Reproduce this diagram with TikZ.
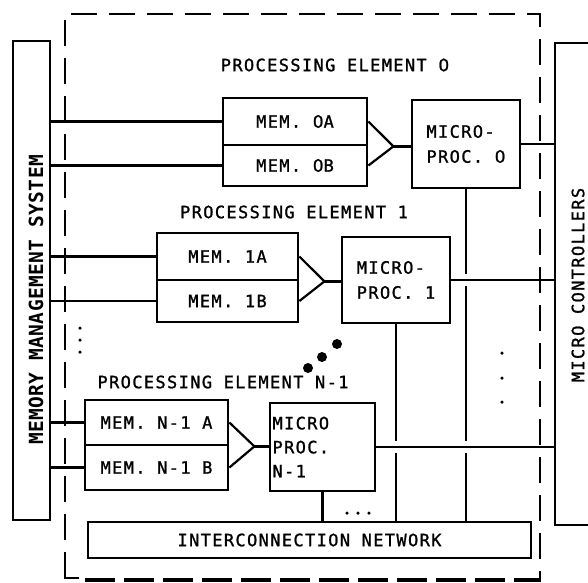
\documentclass[tikz,border=0pt]{standalone}
\usepackage{fontspec}
\usetikzlibrary{calc}
\newfontfamily\plotfont[LetterSpace=8, FakeBold=1.2]{DejaVu Sans Mono}
\newfontfamily\plotbold[LetterSpace=2]{DejaVu Sans Mono Bold}
% an open zero without the inner dot of the mono face
\newfontfamily\zerofont[FakeBold=1.2]{DejaVu Sans}
\newcommand{\Zero}{{\zerofont 0}}
\begin{document}
\begin{tikzpicture}[x=1pt,y=-1pt,
  every node/.style={inner sep=0pt, font=\plotfont\fontsize{17}{25}\selectfont},
  box/.style={draw, line width=2.8pt, rectangle},
  wire/.style={line width=2.2pt},
  border/.style={line width=2.4pt, dash pattern=on 26pt off 12pt},
  bigdot/.style={fill, circle, minimum size=10pt},
  smalldot/.style={fill, circle, minimum size=3.5pt}
]
\useasboundingbox (0,0) rectangle (588,582);
\clip (0,0) rectangle (588,582);

% side systems
\node[box, minimum width=37pt, minimum height=479pt] (mms) at (31.5,280.5) {};
\node[rotate=90, font=\plotbold\fontsize{19.5}{20}\selectfont] (mmstext) at (36,300) {MEMORY MANAGEMENT SYSTEM};
\node[box, minimum width=80pt, minimum height=482pt] (mc) at (595,284) {};
\node[rotate=90] (mctext) at (578,285) {MICRO CONTROLLERS};

% processing element 0
\node (pe0) at (335,65) {PROCESSING ELEMENT \Zero};
\node[box, minimum width=144pt, minimum height=47pt] (memA0) at (295,121.5) {MEM. \Zero A};
\node[box, minimum width=144pt, minimum height=41pt] (memB0) at (295,165.5) {MEM. \Zero B};
\node[box, minimum width=108pt, minimum height=88pt, align=left] (m0) at (466,144) {MICRO-\\PROC. \Zero};

% processing element 1
\node (pe1) at (294,212) {PROCESSING ELEMENT 1};
\node[box, minimum width=141pt, minimum height=47pt] (memA1) at (227.5,256.5) {MEM. 1A};
\node[box, minimum width=141pt, minimum height=42pt] (memB1) at (227.5,301) {MEM. 1B};
\node[box, minimum width=108pt, minimum height=86pt, align=left] (m1) at (396,280) {MICRO-\\PROC. 1};

% processing element N-1
\node (pen) at (223,382) {PROCESSING ELEMENT N-1};
\node[box, minimum width=143pt, minimum height=45pt] (memAn) at (156.5,422.5) {MEM. N-1 A};
\node[box, minimum width=143pt, minimum height=45pt] (memBn) at (156.5,467.5) {MEM. N-1 B};
\node[box, minimum width=105pt, minimum height=88pt, text width=100pt, inner xsep=2.5pt, align=left,
      font=\plotfont\fontsize{17}{24}\selectfont] (mn) at (322.5,447) {MICRO\\PROC.\\N-1};

% interconnection network
\node[box, minimum width=443pt, minimum height=36pt] (ic) at (309.5,540) {INTERCONNECTION NETWORK};

% memory buses
\foreach \m in {memA0,memB0,memA1,memB1,memAn,memBn}
  \draw[wire] (mms.east |- \m.west) -- (\m.west);

% selectors between memory banks and processors
\foreach \a/\b/\p in {memA0/memB0/m0, memA1/memB1/m1, memAn/memBn/mn}{
  \coordinate (apex) at ($(\a.south east)+(25,0)$);
  \draw[wire, line join=miter] (\a.east) -- (apex) -- (\b.east);
  \draw[wire] (apex) -- (apex -| \p.west);
}

% processor links to the interconnection network (broken where they cross)
\draw[wire] (m0.south) -- ($(m0.south |- m1.east)+(0,-6)$);
\draw[wire] ($(m0.south |- m1.east)+(0,6)$) -- ($(m0.south |- mn.east)+(0,-6)$);
\draw[wire] ($(m0.south |- mn.east)+(0,6)$) -- (m0.south |- ic.north);
\draw[wire] (m1.south) -- ($(m1.south |- mn.east)+(0,-6)$);
\draw[wire] ($(m1.south |- mn.east)+(0,6)$) -- (m1.south |- ic.north);
\draw[wire] (mn.south) -- (mn.south |- ic.north);

% processor links to the micro controllers
\foreach \p in {m0,m1,mn}
  \draw[wire] (\p.east) -- (\p.east -| mc.west);

% ellipses
\node[smalldot] (d1) at (80,328) {};
\node[smalldot] (d2) at (80,340) {};
\node[smalldot] (d3) at (80,352) {};
\node[bigdot] (b1) at (308,368) {};
\node[bigdot] (b2) at (322,357) {};
\node[bigdot] (b3) at (337,344) {};
\node[smalldot] (r1) at (502,353) {};
\node[smalldot] (r2) at (502,378) {};
\node[smalldot] (r3) at (502,402) {};
\node[smalldot] (e1) at (347,513) {};
\node[smalldot] (e2) at (358,513) {};
\node[smalldot] (e3) at (369,513) {};

% processing array boundary
\coordinate (tl) at (65,14);
\coordinate (tr) at (540,14);
\coordinate (bl) at (65,578);
\coordinate (br) at (540,582);
\draw[border] (bl) -- (tl) -- (tr) -- (br);
\draw[line width=4.5pt, dash pattern=on 30pt off 9pt] ($(bl)+(20,2)$) -- ($(br)+(0,-2)$);
\draw[line width=2.4pt] ($(bl)+(0,-12)$) -- (bl) -- ($(bl)+(14,0)$);
\end{tikzpicture}
\end{document}
